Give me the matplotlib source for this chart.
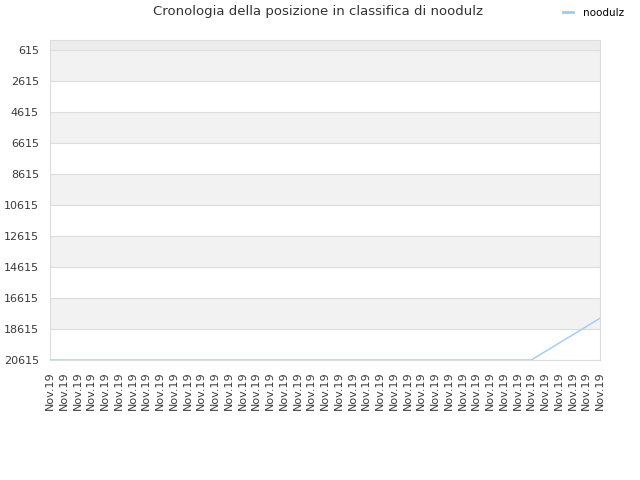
import numpy as np
import matplotlib as mpl
import matplotlib.pyplot as plt

mpl.rcParams['font.family'] = 'DejaVu Sans'

# dati
etichette = ['Nov.19'] * 41
posizioni = [20615] * 36 + [20077, 19539, 19001, 18463, 17925]
tick_y = [615, 2615, 4615, 6615, 8615, 10615, 12615, 14615, 16615, 18615, 20615]
giocatore = 'noodulz'

fig = plt.figure(figsize=(6.4, 4.8), dpi=100)
ax = fig.add_axes([50/640, 1 - 360/480, 550/640, 320/480])

# bande alternate
ax.axhspan(0, tick_y[0], color='#ececec', lw=0, zorder=0)
for i in range(len(tick_y) - 1):
    if i % 2 == 0:
        ax.axhspan(tick_y[i], tick_y[i + 1], color='#f2f2f2', lw=0, zorder=0)

x = np.arange(len(posizioni))
ax.plot(x, posizioni, color='#9ecbf5', lw=1, label=giocatore, zorder=3)

ax.set_ylim(20615, 0)
ax.set_xlim(0, len(etichette) - 1)
ax.set_yticks(tick_y)
ax.set_yticklabels([str(v) for v in tick_y])
ax.set_xticks(np.arange(len(etichette)))
ax.set_xticklabels(etichette, rotation=90)
ax.tick_params(length=0, labelsize=8, labelcolor='#3a3a3a', pad=8)
ax.grid(axis='y', color='#dddddd', lw=0.8)
ax.set_axisbelow(True)
for s in ax.spines.values():
    s.set_color('#dddddd')

fig.text(318/640, 1 - 12/480, 'Cronologia della posizione in classifica di noodulz',
         ha='center', va='center', fontsize=9.5, color='#333333')
leg = fig.legend(loc='center right', bbox_to_anchor=(628/640, 1 - 13/480), frameon=False,
                 fontsize=7.5, handlelength=1.0, handletextpad=0.9, borderaxespad=0)
for h in leg.get_lines():
    h.set_linewidth(2)

fig.savefig('out.png', dpi=100)
